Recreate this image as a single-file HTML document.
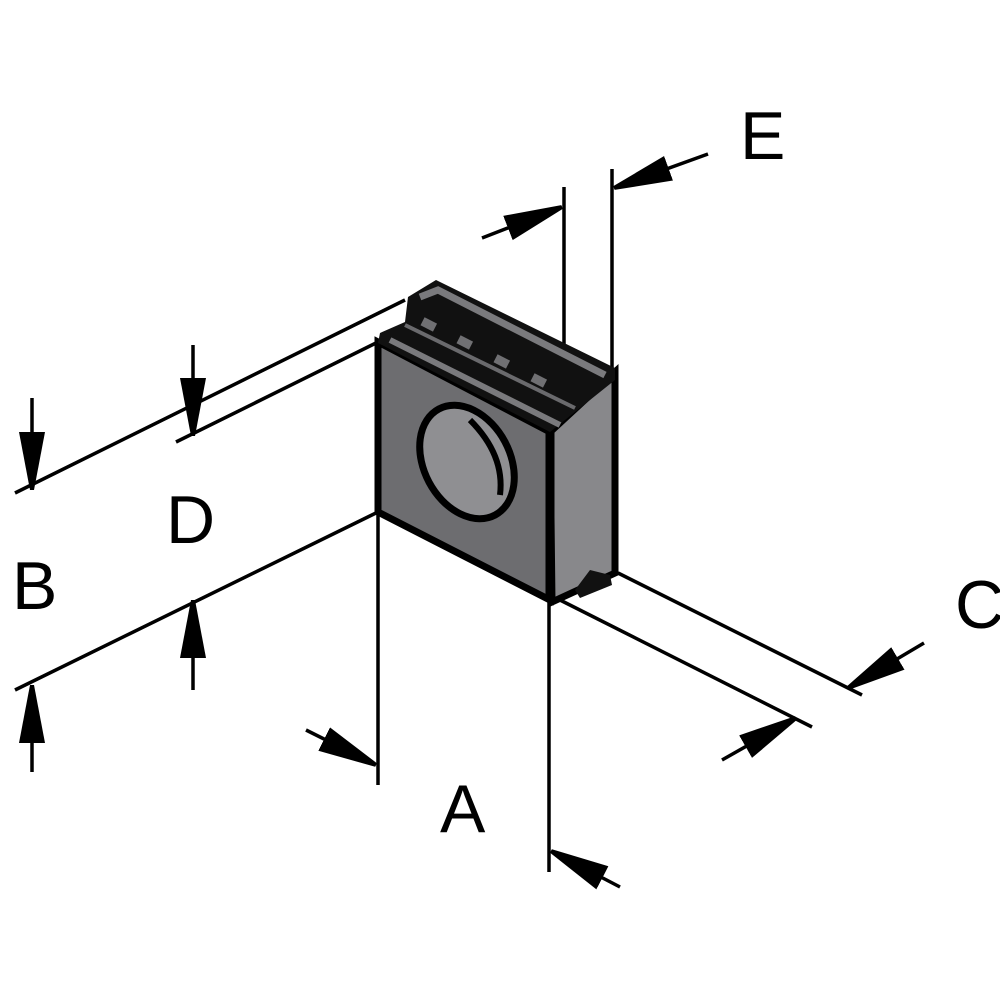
<!DOCTYPE html>
<html><head><meta charset="utf-8"><style>
html,body{margin:0;padding:0;background:#fff}
svg{display:block}
text{font-family:"Liberation Sans","DejaVu Sans",sans-serif;font-size:68px;fill:#000}
</style></head><body>
<svg width="1000" height="1000" viewBox="0 0 1000 1000" xmlns="http://www.w3.org/2000/svg">
<defs>
<marker id="ah" markerWidth="60" markerHeight="30" refX="58" refY="14" orient="auto" markerUnits="userSpaceOnUse">
<path d="M0,1 L58,12 L58,16 L0,27 Z" fill="#000"/>
</marker>
</defs>
<g stroke="#000" stroke-width="3.5" fill="none">
<line x1="15" y1="493" x2="405" y2="300"/>
<line x1="176" y1="442" x2="378" y2="342"/>
<line x1="15" y1="690" x2="378" y2="512"/>
<line x1="378" y1="512" x2="378" y2="785"/>
<line x1="549" y1="600" x2="549" y2="872"/>
<line x1="618" y1="573" x2="862" y2="695"/>
<line x1="560" y1="600" x2="812" y2="727"/>
<line x1="564" y1="187" x2="564" y2="372"/>
<line x1="612" y1="169" x2="612" y2="368"/>
<line x1="32" y1="398" x2="32" y2="490" marker-end="url(#ah)"/>
<line x1="32" y1="772" x2="32" y2="685" marker-end="url(#ah)"/>
<line x1="193" y1="345" x2="193" y2="436" marker-end="url(#ah)"/>
<line x1="193" y1="690" x2="193" y2="600" marker-end="url(#ah)"/>
<line x1="306" y1="730" x2="376" y2="765" marker-end="url(#ah)"/>
<line x1="620" y1="887" x2="551" y2="851" marker-end="url(#ah)"/>
<line x1="924" y1="643" x2="848" y2="688" marker-end="url(#ah)"/>
<line x1="722" y1="760" x2="796" y2="718" marker-end="url(#ah)"/>
<line x1="482" y1="238" x2="562" y2="207" marker-end="url(#ah)"/>
<line x1="708" y1="154" x2="614" y2="188" marker-end="url(#ah)"/>
</g>
<polygon points="378,342 550,432 550,600 378,512" fill="#6d6d70" stroke="#000" stroke-width="7"/>
<polygon points="550,432 615,372 615,573 552,602" fill="#88888b" stroke="#000" stroke-width="7"/>
<line x1="550" y1="432" x2="550" y2="600" stroke="#000" stroke-width="9"/>
<polygon points="408,297 436,280 615,368 615,380 565,420 550,432 378,343 380,333 405,322" fill="#111"/>
<polyline points="420,297 438,290 605,375" fill="none" stroke="#7a7a7d" stroke-width="7"/>
<polyline points="390,340 560,425" fill="none" stroke="#7a7a7d" stroke-width="6"/>
<polyline points="405,325 575,408" fill="none" stroke="#6a6a6d" stroke-width="4"/>
<g fill="#707073">
<rect x="422" y="320" width="14" height="9" transform="rotate(27 429 324)"/>
<rect x="458" y="338" width="14" height="9" transform="rotate(27 465 342)"/>
<rect x="495" y="357" width="14" height="9" transform="rotate(27 502 361)"/>
<rect x="532" y="376" width="14" height="9" transform="rotate(27 539 380)"/>
</g>
<polygon points="575,590 590,570 610,575 612,585 580,598" fill="#111"/>
<ellipse cx="467" cy="462" rx="43" ry="60" transform="rotate(-28 467 462)" fill="#8f8f92" stroke="#000" stroke-width="7"/>
<path d="M470,420 Q505,455 500,495" fill="none" stroke="#000" stroke-width="6"/>
<text x="740" y="159">E</text>
<text x="166" y="543">D</text>
<text x="12" y="609">B</text>
<text x="440" y="832">A</text>
<text x="955" y="628">C</text>
</svg>
</body></html>
